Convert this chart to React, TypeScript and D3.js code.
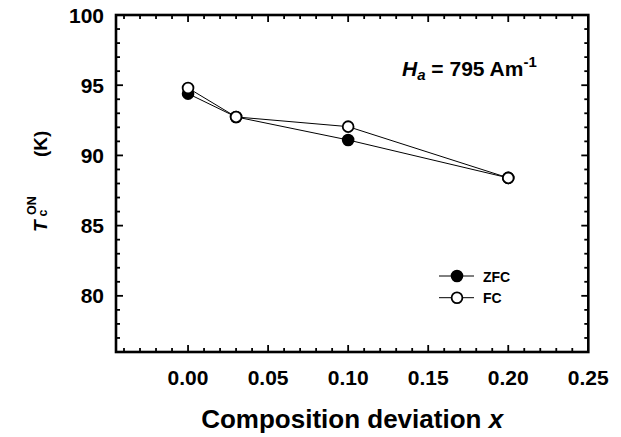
import React from "react";
import * as d3 from "d3";

const composition = [0, 0.03, 0.1, 0.2];
const zfcValues = [94.4, 92.74, 91.1, 88.4];
const fcValues = [94.8, 92.74, 92.05, 88.4];
const xMajorTicks = [0, 0.05, 0.1, 0.15, 0.2, 0.25];
const xTickLabels = ["0.00", "0.05", "0.10", "0.15", "0.20", "0.25"];
const yMajorTicks = [80, 85, 90, 95, 100];
const yTickLabels = ["80", "85", "90", "95", "100"];
const seriesNames = ["ZFC", "FC"];

const FONT = "'Liberation Sans', Arial, Helvetica, sans-serif";

export default function App() {
  const L = 116, R = 588.3, T = 15, B = 352;
  const x = d3.scaleLinear().domain([-0.045, 0.25]).range([L, R]);
  const y = d3.scaleLinear().domain([76, 100]).range([B, T]);

  const xMinor = d3.range(-4, 26).map((i) => i / 100).filter((v) => !xMajorTicks.some((m) => Math.abs(m - v) < 1e-9));
  const yMinor = d3.range(77, 100).filter((v) => !yMajorTicks.includes(v));

  const line = d3
    .line<[number, number]>()
    .x((d) => x(d[0]))
    .y((d) => y(d[1]));

  const zfcPts = composition.map((c, i) => [c, zfcValues[i]] as [number, number]);
  const fcPts = composition.map((c, i) => [c, fcValues[i]] as [number, number]);

  const majLen = 7, minLen = 4;
  const r = 5.4;

  return (
    <svg width={621} height={437} style={{ position: "absolute", left: 0, top: 0, background: "#fff" }} fontFamily={FONT}>
      <rect x={0} y={0} width={621} height={437} fill="#fff" />
      <g stroke="#000" strokeWidth={1.8}>
        {xMajorTicks.filter((v) => v < 0.249).map((v) => (
          <g key={"xm" + v}>
            <line x1={x(v)} x2={x(v)} y1={B} y2={B - majLen} />
            <line x1={x(v)} x2={x(v)} y1={T} y2={T + majLen} />
          </g>
        ))}
        {xMinor.map((v) => (
          <g key={"xn" + v}>
            <line x1={x(v)} x2={x(v)} y1={B} y2={B - minLen} />
            <line x1={x(v)} x2={x(v)} y1={T} y2={T + minLen} />
          </g>
        ))}
        {yMajorTicks.filter((v) => v < 100).map((v) => (
          <g key={"ym" + v}>
            <line x1={L} x2={L + majLen} y1={y(v)} y2={y(v)} />
            <line x1={R} x2={R - majLen} y1={y(v)} y2={y(v)} />
          </g>
        ))}
        {yMinor.map((v) => (
          <g key={"yn" + v}>
            <line x1={L} x2={L + minLen} y1={y(v)} y2={y(v)} />
            <line x1={R} x2={R - minLen} y1={y(v)} y2={y(v)} />
          </g>
        ))}
      </g>
      <rect x={L} y={T} width={R - L} height={B - T} fill="none" stroke="#000" strokeWidth={2.6} />

      <g fontSize={21} fontWeight="bold" fill="#000">
        {xMajorTicks.map((v, i) => (
          <text key={"xl" + i} x={x(v)} y={385} textAnchor="middle">
            {xTickLabels[i]}
          </text>
        ))}
        {yMajorTicks.map((v, i) => (
          <text key={"yl" + i} x={104} y={y(v)} dy="0.36em" textAnchor="end">
            {yTickLabels[i]}
          </text>
        ))}
      </g>

      <text x={(L + R) / 2} y={428} textAnchor="middle" fontSize={26} fontWeight="bold">
        Composition deviation <tspan fontStyle="italic">x</tspan>
      </text>
      <g transform="translate(46.7,232) rotate(-90)" fontWeight="bold" fill="#000">
        <text x={0} y={0} fontSize={19} fontStyle="italic">T</text>
        <text x={15.5} y={0} fontSize={12.5}>c</text>
        <text x={17} y={-10.7} fontSize={12.5}>ON</text>
        <text x={75} y={0} fontSize={19}>(K)</text>
      </g>

      <path d={line(zfcPts) || ""} fill="none" stroke="#000" strokeWidth={1} />
      <path d={line(fcPts) || ""} fill="none" stroke="#000" strokeWidth={1} />
      {zfcPts.map((d, i) => (
        <circle key={"z" + i} cx={x(d[0])} cy={y(d[1])} r={r} fill="#000" stroke="#000" strokeWidth={1.8} />
      ))}
      {fcPts.map((d, i) => (
        <circle key={"f" + i} cx={x(d[0])} cy={y(d[1])} r={r} fill="#fff" stroke="#000" strokeWidth={1.8} />
      ))}

      <text x={402} y={76} fontSize={21} fontWeight="bold">
        <tspan fontStyle="italic">H</tspan>
        <tspan fontStyle="italic" fontSize={15} dy={4}>a</tspan>
        <tspan dy={-4}> = 795 Am</tspan>
        <tspan fontSize={15} dy={-9}>-1</tspan>
      </text>

      {seriesNames.map((name, i) => {
        const cy = 276 + i * 21.7;
        return (
          <g key={name}>
            <line x1={439} x2={474} y1={cy} y2={cy} stroke="#000" strokeWidth={1} />
            <circle cx={457} cy={cy} r={r} fill={i === 0 ? "#000" : "#fff"} stroke="#000" strokeWidth={1.8} />
            <text x={483} y={cy + 5.5} fontSize={14} fontWeight="bold">{name}</text>
          </g>
        );
      })}
    </svg>
  );
}
